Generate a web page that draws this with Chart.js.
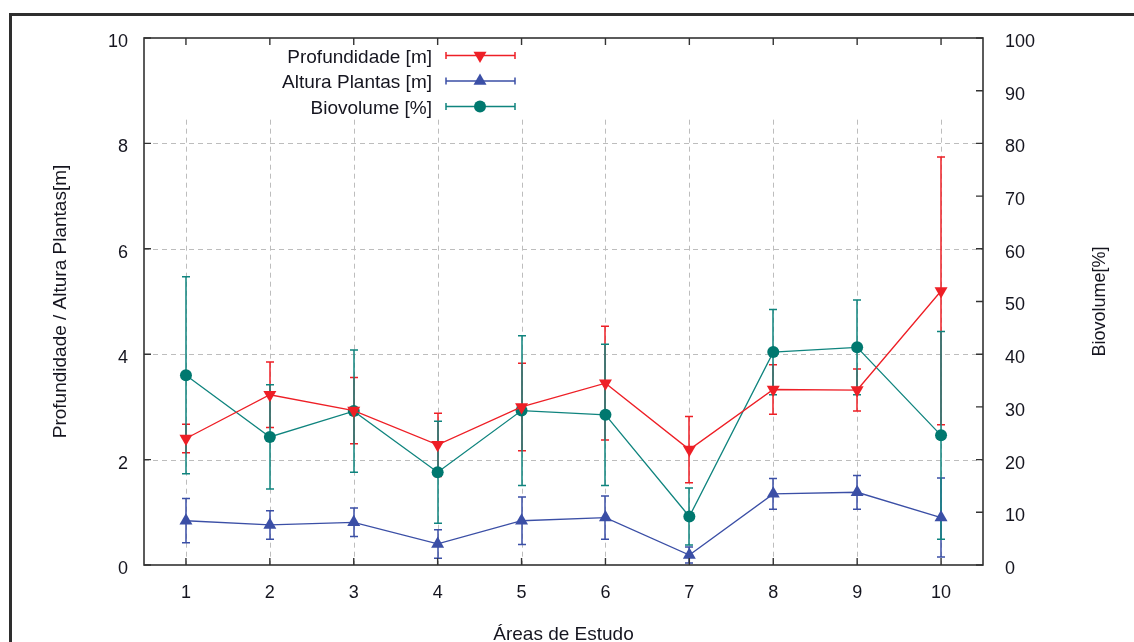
<!DOCTYPE html>
<html>
<head>
<meta charset="utf-8">
<script src="https://cdn.jsdelivr.net/npm/chart.js@4.4.1/dist/chart.umd.min.js"></script>
<style>
  html, body { margin: 0; padding: 0; background: #ffffff; }
  #wrap { position: relative; width: 1134px; height: 642px; }
  canvas { display: block; }
</style>
</head>
<body>
<div id="wrap"><canvas id="chart" width="1134" height="642"></canvas></div>
<script>
// Study areas on the x axis
const areas = ['1', '2', '3', '4', '5', '6', '7', '8', '9', '10'];

// Depth [m] and its standard deviation
const profundidade    = [2.40, 3.23, 2.93, 2.28, 3.00, 3.45, 2.19, 3.33, 3.32, 5.20];
const profundidadeErr = [0.27, 0.62, 0.63, 0.60, 0.83, 1.08, 0.63, 0.47, 0.40, 2.54];

// Plant height [m] and its standard deviation
const alturaPlantas    = [0.84, 0.76, 0.81, 0.40, 0.84, 0.90, 0.19, 1.35, 1.38, 0.90];
const alturaPlantasErr = [0.42, 0.27, 0.27, 0.27, 0.45, 0.41, 0.15, 0.29, 0.32, 0.75];

// Biovolume [%] and its standard deviation (right axis)
const biovolume    = [36.0, 24.3, 29.2, 17.6, 29.3, 28.5, 9.2, 40.4, 41.3, 24.6];
const biovolumeErr = [18.7, 9.9, 11.6, 9.7, 14.2, 13.4, 5.4, 8.1, 9.0, 19.7];

// Tick values
const leftTicks  = [0, 2, 4, 6, 8, 10];
const rightTicks = [0, 10, 20, 30, 40, 50, 60, 70, 80, 90, 100];

const RED = '#ee1f26';
const BLUE = '#3b4fa6';
const TEAL = '#0f847e';
const TEXT = '#15151f';
const FONT = 'Arial, "Liberation Sans", sans-serif';

// Dashed grid behind everything
const gridLines = {
  id: 'gridLines',
  beforeDatasetsDraw(chart) {
    const { ctx, chartArea: a, scales } = chart;
    ctx.save();
    ctx.strokeStyle = '#bdbdbd';
    ctx.lineWidth = 1;
    ctx.setLineDash([5, 4]);
    leftTicks.forEach(v => {
      if (v <= scales.y.min || v >= scales.y.max) return;
      const y = Math.round(scales.y.getPixelForValue(v)) + 0.5;
      ctx.beginPath(); ctx.moveTo(a.left, y); ctx.lineTo(a.right, y); ctx.stroke();
    });
    const gridTop = scales.y.getPixelForValue(8.45);
    areas.forEach((c, i) => {
      const x = Math.round(scales.x.getPixelForValue(i)) + 0.5;
      ctx.beginPath(); ctx.moveTo(x, gridTop); ctx.lineTo(x, a.bottom); ctx.stroke();
    });
    ctx.restore();
  }
};

// Error bars drawn from each dataset's "errors" array through its own y scale
const errorBars = {
  id: 'errorBars',
  beforeDatasetsDraw(chart) {
    const ctx = chart.ctx;
    chart.data.datasets.forEach((ds, i) => {
      const meta = chart.getDatasetMeta(i);
      const ys = chart.scales[ds.yAxisID];
      ctx.save();
      ctx.setLineDash([]);
      ctx.strokeStyle = ds.borderColor;
      ctx.lineWidth = 1.5;
      meta.data.forEach((pt, j) => {
        const v = ds.data[j], e = ds.errors[j];
        const x = Math.round(pt.x);
        const yTop = ys.getPixelForValue(v + e);
        const yBot = ys.getPixelForValue(Math.max(v - e, ys.min));
        ctx.beginPath();
        ctx.moveTo(x, yTop); ctx.lineTo(x, yBot);
        ctx.moveTo(x - 4, yTop); ctx.lineTo(x + 4, yTop);
        if (v - e >= ys.min) { ctx.moveTo(x - 4, yBot); ctx.lineTo(x + 4, yBot); }
        ctx.stroke();
      });
      ctx.restore();
    });
  }
};

// Plot border with inward ticks, legend, axis titles, outer frame
const decorations = {
  id: 'decorations',
  afterDraw(chart) {
    const { ctx, chartArea: a, scales } = chart;
    ctx.save();
    // plot border
    ctx.strokeStyle = '#333333';
    ctx.lineWidth = 1.6;
    ctx.strokeRect(a.left, a.top, a.right - a.left, a.bottom - a.top);
    // inward ticks
    ctx.lineWidth = 1.4;
    ctx.beginPath();
    leftTicks.forEach(v => {
      const y = scales.y.getPixelForValue(v);
      ctx.moveTo(a.left, y); ctx.lineTo(a.left + 7, y);
    });
    rightTicks.forEach(v => {
      const y = scales.y1.getPixelForValue(v);
      ctx.moveTo(a.right, y); ctx.lineTo(a.right - 7, y);
    });
    areas.forEach((c, i) => {
      const x = scales.x.getPixelForValue(i);
      ctx.moveTo(x, a.bottom); ctx.lineTo(x, a.bottom - 7);
      ctx.moveTo(x, a.top); ctx.lineTo(x, a.top + 7);
    });
    ctx.stroke();

    // legend
    ctx.font = '19px ' + FONT;
    ctx.textAlign = 'right';
    ctx.textBaseline = 'middle';
    chart.data.datasets.forEach((ds, i) => {
      const ly = 55.5 + i * 25.5;
      ctx.fillStyle = TEXT;
      ctx.fillText(ds.label, 432, ly + 2);
      ctx.strokeStyle = ds.borderColor;
      ctx.lineWidth = 1.5;
      ctx.beginPath();
      ctx.moveTo(446, ly); ctx.lineTo(515, ly);
      ctx.moveTo(446, ly - 3.5); ctx.lineTo(446, ly + 3.5);
      ctx.moveTo(515, ly - 3.5); ctx.lineTo(515, ly + 3.5);
      ctx.stroke();
      ctx.fillStyle = ds.backgroundColor;
      Chart.helpers.drawPoint(ctx, {
        pointStyle: ds.pointStyle,
        radius: ds.pointRadius,
        rotation: ds.pointRotation || 0,
        borderWidth: 0
      }, 480, ly);
    });

    // axis titles
    ctx.fillStyle = TEXT;
    ctx.textAlign = 'center';
    ctx.textBaseline = 'middle';
    ctx.font = '19px ' + FONT;
    ctx.save();
    ctx.translate(61, (a.top + a.bottom) / 2);
    ctx.rotate(-Math.PI / 2);
    ctx.fillText('Profundidade / Altura Plantas[m]', 0, 0);
    ctx.restore();
    ctx.save();
    ctx.font = '18px ' + FONT;
    ctx.translate(1100, (a.top + a.bottom) / 2);
    ctx.rotate(-Math.PI / 2);
    ctx.fillText('Biovolume[%]', 0, 0);
    ctx.restore();
    ctx.textBaseline = 'alphabetic';
    ctx.fillText('Áreas de Estudo', (a.left + a.right) / 2, 640);

    // outer frame
    ctx.strokeStyle = '#2e2e2e';
    ctx.lineWidth = 3;
    ctx.beginPath();
    ctx.moveTo(10.5, 650); ctx.lineTo(10.5, 14.5); ctx.lineTo(1140, 14.5);
    ctx.stroke();
    ctx.restore();
  }
};

const tickFont = { family: FONT, size: 18 };

new Chart(document.getElementById('chart'), {
  type: 'line',
  data: {
    labels: areas,
    datasets: [
      {
        label: 'Profundidade [m]',
        data: profundidade,
        errors: profundidadeErr,
        yAxisID: 'y',
        borderColor: RED,
        backgroundColor: RED,
        borderWidth: 1.3,
        pointStyle: 'triangle',
        pointRotation: 180,
        pointRadius: 7.5,
        pointBorderWidth: 0,
        tension: 0
      },
      {
        label: 'Altura Plantas [m]',
        data: alturaPlantas,
        errors: alturaPlantasErr,
        yAxisID: 'y',
        borderColor: BLUE,
        backgroundColor: BLUE,
        borderWidth: 1.3,
        pointStyle: 'triangle',
        pointRadius: 7.5,
        pointBorderWidth: 0,
        tension: 0
      },
      {
        label: 'Biovolume [%]',
        data: biovolume,
        errors: biovolumeErr,
        yAxisID: 'y1',
        borderColor: TEAL,
        backgroundColor: '#00786f',
        borderWidth: 1.3,
        pointStyle: 'circle',
        pointRadius: 6,
        pointBorderWidth: 0,
        tension: 0
      }
    ]
  },
  options: {
    responsive: false,
    animation: false,
    layout: { padding: { top: 38, left: 0, right: 0, bottom: 0 } },
    plugins: { legend: { display: false }, tooltip: { enabled: false } },
    scales: {
      x: {
        type: 'category',
        offset: true,
        grid: { display: false },
        border: { display: false },
        ticks: { font: tickFont, color: TEXT, padding: 9, maxRotation: 0, autoSkip: false },
        afterFit(s) { s.height = 77; }
      },
      y: {
        position: 'left',
        min: 0, max: 10,
        grid: { display: false },
        border: { display: false },
        ticks: { font: tickFont, color: TEXT, padding: 8, labelOffset: 4 },
        afterBuildTicks(s) { s.ticks = leftTicks.map(v => ({ value: v })); },
        afterFit(s) { s.width = 144; }
      },
      y1: {
        position: 'right',
        min: 0, max: 100,
        grid: { display: false },
        border: { display: false },
        ticks: { font: tickFont, color: TEXT, padding: 14, labelOffset: 4 },
        afterBuildTicks(s) { s.ticks = rightTicks.map(v => ({ value: v })); },
        afterFit(s) { s.width = 151; }
      }
    }
  },
  plugins: [gridLines, errorBars, decorations]
});
</script>
</body>
</html>
